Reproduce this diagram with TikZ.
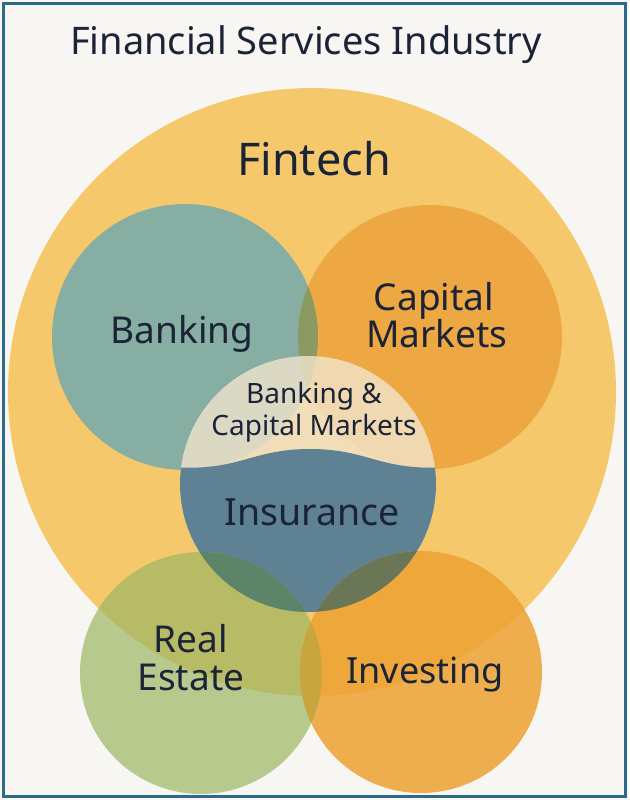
\documentclass[tikz,border=0pt]{standalone}
\usepackage{fontspec}
\setmainfont{Noto Sans}
\definecolor{bgc}{HTML}{F8F6F2}
\definecolor{framec}{HTML}{2D6A8A}
\definecolor{fintechc}{HTML}{F5C96B}
\definecolor{bankc}{HTML}{86AEA3}
\definecolor{capmc}{HTML}{EDA843}
\definecolor{bankcapc}{HTML}{8A9A62}
\definecolor{creamc}{RGB}{241,228,204}
\definecolor{insurc}{HTML}{5E8293}
\definecolor{realc}{RGB}{158,182,99}
\definecolor{investc}{RGB}{237,162,50}
\definecolor{reinsc}{HTML}{5B8468}
\definecolor{invinsc}{HTML}{6B7656}
\definecolor{reinvc}{HTML}{C4A540}
\definecolor{txtc}{HTML}{1B2336}
\newcommand{\fsz}[1]{\fontsize{#1}{#1}\selectfont}
\tikzset{lbl/.style={text=txtc, inner sep=0pt, anchor=base}}
\begin{document}
\begin{tikzpicture}[x=1pt,y=-1pt]
\useasboundingbox (0,0) rectangle (629,800);
\fill[bgc] (0,0) rectangle (629,800);
% Fintech
\fill[fintechc] (312,392) circle[radius=304pt];
% Banking and Capital Markets
\fill[bankc] (185,337) circle[radius=133pt];
\fill[capmc] (430,337) circle[radius=132pt];
\begin{scope}
\clip (185,337) circle[radius=133pt];
\fill[bankcapc] (430,337) circle[radius=132pt];
\end{scope}
% Banking & Capital Markets circle
\fill[creamc, opacity=0.8] (308,484) circle[radius=128pt];
% Insurance (lower part of that circle)
\begin{scope}
\clip (308,484) circle[radius=128pt];
\fill[insurc] (170,467) .. controls (240,472) and (250,449) .. (310,449)
  .. controls (370,449) and (380,472) .. (450,467) -- (450,620) -- (170,620) -- cycle;
\end{scope}
% Real Estate and Investing
\fill[realc, opacity=0.7] (201,673) circle[radius=121pt];
\fill[investc, opacity=0.85] (421,672) circle[radius=121pt];
\begin{scope}
\clip (201,673) circle[radius=121pt];
\fill[reinvc, opacity=0.85] (421,672) circle[radius=121pt];
\end{scope}
\begin{scope}
\clip (308,484) circle[radius=128pt];
\fill[reinsc] (201,673) circle[radius=121pt];
\fill[invinsc] (421,672) circle[radius=121pt];
\end{scope}
% frame
\draw[framec, line width=3pt] (3.5,3.5) rectangle (625.5,796.5);
% labels
\node[lbl, font=\fsz{38}] (title) at (306,55) {Financial Services Industry};
\node[lbl, font=\fsz{45}] (fintech) at (314,175) {Fintech};
\node[lbl, font=\fsz{37}] (banking) at (182,343) {Banking};
\node[lbl, font=\fsz{37}] (cap1) at (434,310) {Capital};
\node[lbl, font=\fsz{37}] (cap2) at (437,347) {Markets};
\node[lbl, font=\fsz{28}] (bc1) at (314,403) {Banking \&};
\node[lbl, font=\fsz{28}] (bc2) at (314,435) {Capital Markets};
\node[lbl, font=\fsz{37.5}] (ins) at (312,525) {Insurance};
\node[lbl, font=\fsz{37}] (re1) at (191,652) {Real};
\node[lbl, font=\fsz{37}] (re2) at (191,690) {Estate};
\node[lbl, font=\fsz{36}] (inv) at (425,683) {Investing};
\end{tikzpicture}
\end{document}
